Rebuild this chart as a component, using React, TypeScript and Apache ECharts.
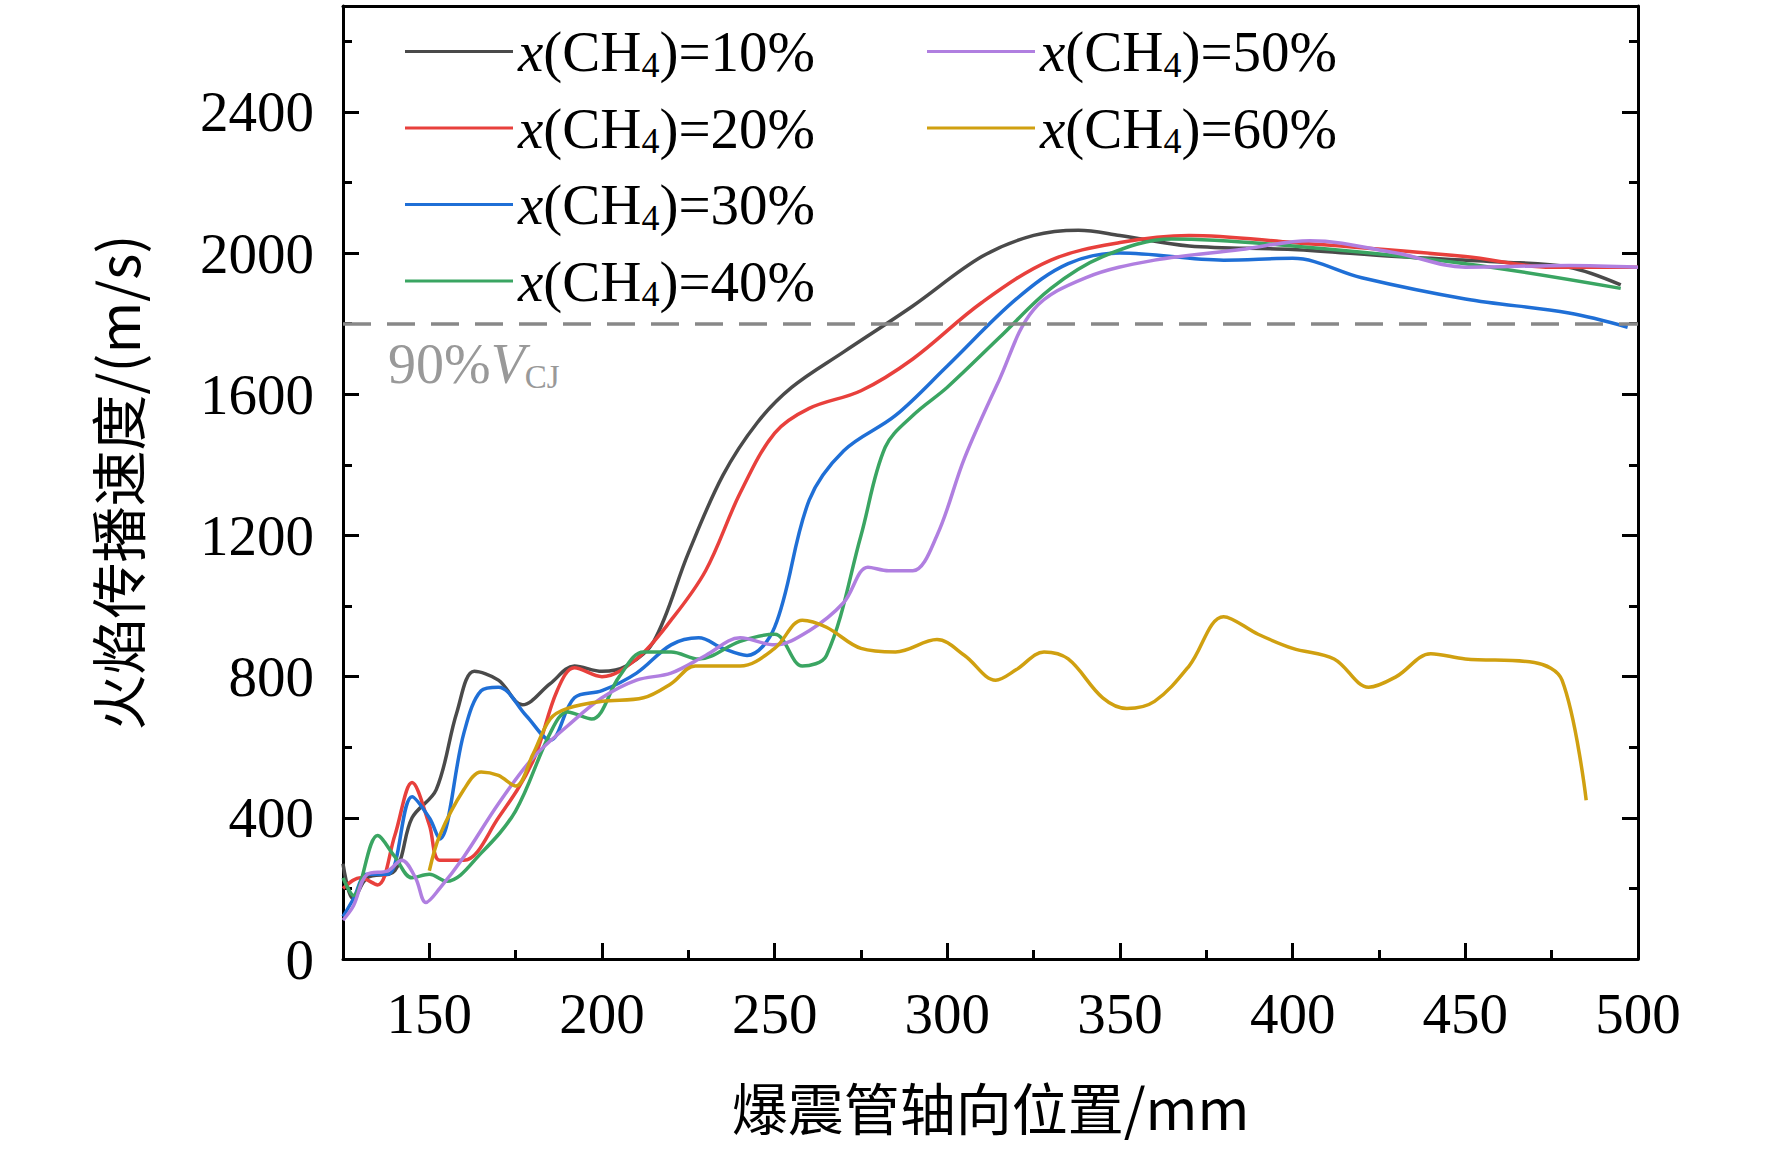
import React, { useEffect, useRef } from "react";
import * as echarts from "echarts";

const seriesNames = ["10%", "20%", "30%", "40%", "50%", "60%"];
const colors = ["#4a4a4a", "#e8403c", "#1f6fd6", "#3aa562", "#b07fe0", "#d0a010"];
const xMajor = [150, 200, 250, 300, 350, 400, 450, 500];
const xMinor = [175, 225, 275, 325, 375, 425, 475];

const ch10 = [[125,270],[128,170],[132,230],[140,250],[145,400],[152,480],[158,700],[163,815],[170,790],[177,720],[185,780],[192,830],[200,815],[207,830],[215,900],[225,1150],[235,1370],[245,1520],[255,1620],[270,1720],[290,1850],[310,1990],[325,2050],[338,2065],[350,2050],[370,2020],[400,2010],[430,1990],[460,1975],[480,1960],[495,1910]];
const ch20 = [[125,200],[130,230],[135,210],[140,350],[145,500],[150,380],[153,280],[160,280],[170,400],[180,560],[187,760],[192,825],[200,800],[210,850],[220,960],[230,1100],[240,1320],[250,1490],[260,1560],[275,1610],[290,1700],[310,1860],[330,1980],[350,2030],[370,2050],[400,2030],[450,1990],[475,1960],[500,1960]];
const ch30 = [[125,120],[128,170],[132,240],[138,240],[145,460],[150,400],[153,340],[160,640],[165,760],[170,770],[178,690],[185,620],[192,740],[200,760],[210,810],[220,890],[228,910],[235,880],[242,860],[250,940],[260,1300],[270,1440],[285,1540],[300,1680],[320,1870],[335,1970],[350,2000],[380,1980],[400,1985],[420,1930],[450,1870],[480,1830],[497,1790]];
const ch40 = [[125,230],[128,180],[135,350],[140,290],[145,230],[150,240],[155,220],[165,300],[175,420],[185,640],[190,700],[197,680],[205,800],[212,870],[220,870],[228,850],[240,900],[250,920],[258,830],[265,860],[275,1200],[282,1450],[290,1540],[300,1620],[315,1760],[330,1900],[345,1990],[365,2040],[400,2020],[450,1970],[495,1900]];
const ch50 = [[125,110],[128,150],[132,240],[138,250],[142,280],[146,230],[149,160],[153,200],[160,290],[170,440],[180,570],[190,660],[200,740],[210,790],[220,810],[230,860],[240,910],[250,890],[260,930],[270,1010],[277,1110],[283,1100],[290,1100],[297,1200],[305,1420],[315,1640],[325,1840],[340,1930],[360,1980],[385,2010],[405,2035],[430,2000],[450,1960],[480,1965],[500,1960]];
const ch60 = [[150,250],[153,350],[160,480],[165,530],[170,520],[175,490],[180,580],[185,680],[190,710],[200,730],[212,740],[220,780],[227,830],[240,830],[250,880],[258,960],[265,940],[275,880],[285,870],[297,905],[305,860],[314,790],[320,820],[328,870],[335,850],[345,740],[352,710],[360,730],[370,830],[380,970],[390,920],[400,880],[412,850],[422,770],[430,800],[440,865],[450,850],[470,840],[478,790],[485,450]];
const allData = [ch10, ch20, ch30, ch40, ch50, ch60];
const cjLevel = 1800;

const serif = "'Liberation Serif', 'Times New Roman', serif";
const cjk = "'Noto Sans CJK SC', sans-serif";

const App: React.FC = () => {
  const ref = useRef<HTMLDivElement>(null);

  useEffect(() => {
    document.body.style.margin = "0";
    if (!ref.current) return;
    const chart = echarts.init(ref.current, undefined, { renderer: "svg" });
    const rich = {
      i: { fontFamily: serif, fontStyle: "italic", fontSize: 57, color: "#000" },
      s: { fontFamily: serif, fontSize: 36, color: "#000", verticalAlign: "bottom", padding: [26, 0, 0, 0] },
      n: { fontFamily: serif, fontSize: 57, color: "#000" },
    };
    const fmt = (name: string) => `{i|x}{n|(CH}{s|4}{n|)=${name}}`;
    const axisLine = { show: true, lineStyle: { color: "#000", width: 3 } };
    const axisTick = { inside: true, length: 16, lineStyle: { width: 3, color: "#000" } };
    const minorTick = { show: true, splitNumber: 2, length: 9, lineStyle: { width: 3, color: "#000" } };
    const legendBase = {
      orient: "vertical", top: 18, itemGap: 17,
      itemWidth: 108, itemHeight: 57, icon: "path://M0,27h100v3h-100z",
      formatter: fmt, textStyle: { rich, fontSize: 57 },
    };
    const option: any = {
      animation: false,
      grid: { left: 343, right: 134, top: 6, bottom: 208 },
      legend: [
        { ...legendBase, data: seriesNames.slice(0, 4), left: 400 },
        { ...legendBase, data: seriesNames.slice(4), left: 922 },
      ],
      xAxis: [
        {
          type: "value", min: 125, max: 500,
          name: "爆震管轴向位置/mm", nameLocation: "middle", nameGap: 118,
          nameTextStyle: { fontFamily: cjk, fontSize: 56, color: "#000" },
          axisLine,
          axisTick: { ...axisTick, customValues: xMajor },
          axisLabel: { fontFamily: serif, fontSize: 57, color: "#000", margin: 26, customValues: xMajor },
          splitLine: { show: false },
        },
        {
          type: "value", min: 125, max: 500, position: "bottom",
          axisLine: { show: false },
          axisTick: { inside: true, length: 9, lineStyle: { width: 3, color: "#000" }, customValues: xMinor },
          axisLabel: { show: false, customValues: xMinor }, splitLine: { show: false },
        },
        {
          type: "value", min: 125, max: 500, position: "top", offset: 0,
          axisLine, axisTick: { show: false }, axisLabel: { show: false }, splitLine: { show: false },
        },
      ],
      yAxis: [
        {
          type: "value", min: 0, max: 2700, interval: 400,
          name: "火焰传播速度/(m/s)", nameLocation: "middle", nameGap: 200,
          nameTextStyle: { fontFamily: cjk, fontSize: 56, color: "#000" },
          axisLine, axisTick, minorTick,
          axisLabel: { fontFamily: serif, fontSize: 57, color: "#000", margin: 29, showMaxLabel: false,
            formatter: (v: number) => String(v) },
          splitLine: { show: false },
        },
        {
          type: "value", min: 0, max: 2700, interval: 400, position: "right",
          axisLine, axisTick, minorTick, axisLabel: { show: false }, splitLine: { show: false },
        },
      ],
      graphic: [
        {
          type: "text", left: 388, top: 336,
          style: { text: "{a|90%}{b|V}{c|CJ}", rich: {
            a: { fontFamily: serif, fontSize: 56, fill: "#999" },
            b: { fontFamily: serif, fontSize: 56, fontStyle: "italic", fill: "#999" },
            c: { fontFamily: serif, fontSize: 33, fill: "#999", padding: [26, 0, 0, 0] },
          } },
        },
      ],
      series: allData.map((d, i) => ({
        name: seriesNames[i],
        type: "line",
        data: d,
        smooth: 0.35,
        showSymbol: false,
        lineStyle: { color: colors[i], width: 3.5 },
        itemStyle: { color: colors[i] },
        markLine: i === 0 ? {
          silent: true, symbol: "none", label: { show: false },
          lineStyle: { type: [28, 16], color: "#888", width: 3.5 },
          data: [{ yAxis: cjLevel }],
        } : undefined,
      })),
    };
    chart.setOption(option);
    return () => chart.dispose();
  }, []);

  return <div ref={ref} style={{ width: 1772, height: 1167 }} />;
};

export default App;
